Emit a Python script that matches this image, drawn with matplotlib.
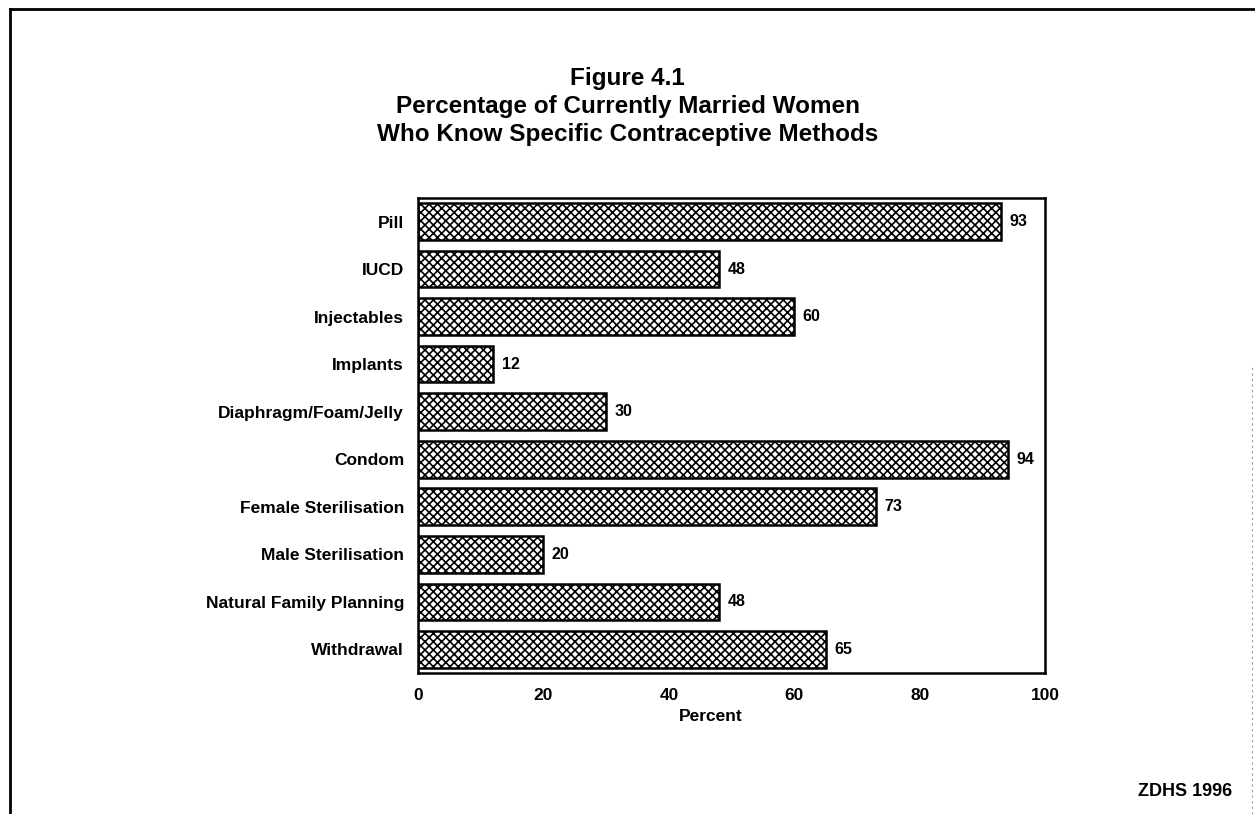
import matplotlib
matplotlib.use('Agg')
import matplotlib.pyplot as plt
from matplotlib.lines import Line2D

plt.rcParams['font.family'] = ['Liberation Sans', 'DejaVu Sans']
plt.rcParams['font.weight'] = 'bold'
plt.rcParams['hatch.linewidth'] = 1.2
plt.rcParams['hatch.color'] = 'black'

methods = ['Pill', 'IUCD', 'Injectables', 'Implants', 'Diaphragm/Foam/Jelly',
           'Condom', 'Female Sterilisation', 'Male Sterilisation',
           'Natural Family Planning', 'Withdrawal']
percent = [93, 48, 60, 12, 30, 94, 73, 20, 48, 65]
xticks = [0, 20, 40, 60, 80, 100]

fig = plt.figure(figsize=(12.55, 8.14), dpi=100)
ax = fig.add_axes([0.333, 0.173, 0.5, 0.584])

ypos = list(range(len(methods)))
bars = ax.barh(ypos, percent, height=0.77, color='white', edgecolor='black',
               linewidth=1.8, hatch='xxxx')

for y, v in zip(ypos, percent):
    ax.annotate(f'{v}', (v, y), xytext=(6, 0), textcoords='offset points',
                va='center', ha='left', fontsize=11.5, fontweight='bold')

ax.set_xlim(0, 100)
ax.set_ylim(9.5, -0.5)
ax.set_yticks(ypos)
ax.set_yticklabels(methods, fontsize=12.5, fontweight='bold')
ax.set_xticks(xticks)
ax.set_xticklabels([str(t) for t in xticks], fontsize=12.5, fontweight='bold')
ax.tick_params(axis='both', length=0)
ax.tick_params(axis='y', pad=10)
ax.tick_params(axis='x', pad=11)
for s in ax.spines.values():
    s.set_linewidth(1.8)

ax.set_xlabel('Percent', fontsize=12.5, fontweight='bold')
ax.xaxis.set_label_coords(0.466, -0.076)

fig.text(0.5, 1 - 78 / 814, 'Figure 4.1', ha='center', va='center',
         fontsize=17.5, fontweight='bold')
fig.text(0.5, 1 - 106 / 814, 'Percentage of Currently Married Women', ha='center',
         va='center', fontsize=17.5, fontweight='bold')
fig.text(0.5, 1 - 134 / 814, 'Who Know Specific Contraceptive Methods', ha='center',
         va='center', fontsize=17.5, fontweight='bold')

fig.text(1232 / 1255, 1 - 792 / 814, 'ZDHS 1996', ha='right', va='center',
         fontsize=13, fontweight='bold')

# scanned page border
fig.add_artist(Line2D([10 / 1255, 10 / 1255], [0, 1 - 9 / 814], color='black',
                      linewidth=2, transform=fig.transFigure))
fig.add_artist(Line2D([10 / 1255, 1], [1 - 9 / 814, 1 - 9 / 814], color='black',
                      linewidth=2, transform=fig.transFigure))
fig.add_artist(Line2D([1252 / 1255, 1252 / 1255], [0, 0.55], color='#999999',
                      linewidth=0.8, linestyle=(0, (2, 3)), transform=fig.transFigure))

fig.savefig('out.png', dpi=100)
